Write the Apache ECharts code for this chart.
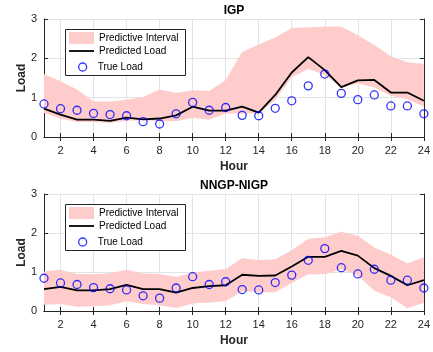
<!DOCTYPE html>
<html>
<head>
<meta charset="utf-8">
<script src="https://cdn.jsdelivr.net/npm/echarts@6/dist/echarts.min.js"></script>
<style>
  html, body { margin: 0; padding: 0; background: #fff; }
  #chart { width: 433px; height: 352px; }
</style>
</head>
<body>
<div id="chart"></div>
<script>
// Hours of the day
const hours = ['1','2','3','4','5','6','7','8','9','10','11','12','13','14','15','16','17','18','19','20','21','22','23','24'];

// Observed load (shared by both panels)
const trueLoad = [0.84, 0.72, 0.68, 0.60, 0.57, 0.54, 0.39, 0.33, 0.59, 0.88, 0.68, 0.75,
                  0.55, 0.54, 0.73, 0.92, 1.30, 1.60, 1.11, 0.95, 1.07, 0.79, 0.79, 0.59];

// IGP model
const igpPred  = [0.72, 0.57, 0.44, 0.44, 0.41, 0.49, 0.45, 0.47, 0.55, 0.77, 0.67, 0.67,
                  0.77, 0.62, 1.07, 1.64, 2.03, 1.70, 1.27, 1.44, 1.45, 1.13, 1.13, 0.92];
const igpUpper = [1.60, 1.42, 1.21, 0.91, 0.90, 0.95, 1.02, 1.21, 1.12, 1.19, 1.17, 1.45,
                  2.16, 2.35, 2.53, 2.77, 2.79, 2.80, 2.81, 2.59, 2.34, 2.05, 1.90, 1.86];
const igpLower = [0.61, 0.47, 0.38, 0.38, 0.36, 0.41, 0.43, 0.40, 0.40, 0.49, 0.44, 0.60,
                  0.60, 0.60, 0.94, 1.52, 1.73, 1.58, 1.25, 1.36, 1.26, 1.05, 0.96, 0.77];

// NNGP-NIGP model
const nnPred  = [0.56, 0.62, 0.53, 0.53, 0.56, 0.67, 0.56, 0.56, 0.47, 0.59, 0.64, 0.66,
                 0.93, 0.90, 0.91, 1.14, 1.39, 1.39, 1.54, 1.42, 1.10, 0.90, 0.66, 0.79];
const nnUpper = [1.01, 1.06, 0.95, 0.94, 0.97, 1.06, 0.96, 0.95, 0.87, 0.99, 1.03, 1.08,
                 1.35, 1.31, 1.33, 1.56, 1.85, 1.89, 2.03, 1.93, 1.63, 1.44, 1.22, 1.38];
const nnLower = [0.16, 0.18, 0.11, 0.12, 0.15, 0.25, 0.18, 0.15, 0.08, 0.19, 0.22, 0.25,
                 0.51, 0.48, 0.48, 0.72, 0.94, 0.94, 1.08, 0.91, 0.52, 0.35, 0.07, 0.21];

const panelTitles = ['IGP', 'NNGP-NIGP'];
const yTicks = [0, 1, 2, 3];

const FONT = 'Liberation Sans, Arial, Helvetica, sans-serif';
const AXIS_COLOR = '#262626';
const BAND_COLOR = '#ffcccc';
const evenHour = (idx) => (idx + 1) % 2 === 0;

const panels = [
  { pred: igpPred, upper: igpUpper, lower: igpLower, top: 19, height: 118 },
  { pred: nnPred,  upper: nnUpper,  lower: nnLower,  top: 194, height: 117 }
];

const grid = [], xAxis = [], yAxis = [], series = [], title = [], legend = [], graphic = [];

panels.forEach((p, i) => {
  grid.push({ left: 44, right: 8, top: p.top, height: p.height, containLabel: false });

  const baseX = {
    type: 'category', data: hours, gridIndex: i, boundaryGap: false,
    axisLine: { show: true, lineStyle: { color: AXIS_COLOR, width: 1 } },
    axisTick: { show: true, inside: true, length: 4, interval: (idx) => evenHour(idx), lineStyle: { color: AXIS_COLOR } }
  };
  xAxis.push(Object.assign({}, baseX, {
    position: 'bottom',
    name: 'Hour', nameLocation: 'middle', nameGap: 24, nameMoveOverlap: false,
    nameTextStyle: { fontFamily: FONT, fontSize: 12, fontWeight: 'bold', color: AXIS_COLOR },
    axisLabel: { interval: (idx) => evenHour(idx), color: AXIS_COLOR, fontFamily: FONT, fontSize: 11, margin: 8 },
    splitLine: { show: true, interval: (idx) => evenHour(idx), lineStyle: { color: '#e3e3e3', width: 1 } }
  }));
  xAxis.push(Object.assign({}, baseX, {
    position: 'top', axisLabel: { show: false }, splitLine: { show: false }
  }));

  const baseY = {
    type: 'value', gridIndex: i, min: 0, max: 3, interval: 1,
    axisLine: { show: true, lineStyle: { color: AXIS_COLOR, width: 1 } },
    axisTick: { show: true, inside: true, length: 4, lineStyle: { color: AXIS_COLOR } }
  };
  yAxis.push(Object.assign({}, baseY, {
    position: 'left',
    name: 'Load', nameLocation: 'middle', nameGap: 16, nameRotate: 90, nameMoveOverlap: false,
    nameTextStyle: { fontFamily: FONT, fontSize: 12, fontWeight: 'bold', color: AXIS_COLOR },
    axisLabel: { color: AXIS_COLOR, fontFamily: FONT, fontSize: 11, margin: 7,
                 formatter: (v) => yTicks.includes(v) ? String(v) : '' },
    splitLine: { show: true, lineStyle: { color: '#e3e3e3', width: 1 } }
  }));
  yAxis.push(Object.assign({}, baseY, {
    position: 'right', axisLabel: { show: false }, splitLine: { show: false }
  }));

  const xi = i * 2, yi = i * 2;
  const bandWidth = p.upper.map((u, k) => +(u - p.lower[k]).toFixed(3));

  series.push({
    type: 'line', xAxisIndex: xi, yAxisIndex: yi, stack: 'band' + i,
    data: p.lower, symbol: 'none', silent: true,
    lineStyle: { width: 0, opacity: 0 }, z: 1
  });
  series.push({
    name: 'Predictive Interval', type: 'line', xAxisIndex: xi, yAxisIndex: yi, stack: 'band' + i,
    data: bandWidth, symbol: 'none', color: BAND_COLOR,
    lineStyle: { width: 0, opacity: 0 },
    areaStyle: { color: BAND_COLOR, opacity: 1 }, z: 1
  });
  series.push({
    name: 'Predicted Load', type: 'line', xAxisIndex: xi, yAxisIndex: yi,
    data: p.pred, symbol: 'none', color: '#000000',
    lineStyle: { color: '#000000', width: 1.8 }, z: 3
  });
  series.push({
    name: 'True Load', type: 'scatter', xAxisIndex: xi, yAxisIndex: yi,
    data: trueLoad, symbol: 'circle', symbolSize: 8, color: '#0000ff',
    itemStyle: { color: 'rgba(255,255,255,0)', borderColor: '#0000ff', borderWidth: 1.3 }, z: 4
  });

  title.push({
    text: panelTitles[i], left: 234, top: p.top - 14, textAlign: 'center', padding: 0,
    textStyle: { fontFamily: FONT, fontSize: 12, fontWeight: 'bold', color: '#000' }
  });

  // legend frame
  graphic.push({
    type: 'rect', left: 65, top: p.top + 10, z: 50,
    shape: { width: 120, height: 46 },
    style: { fill: '#ffffff', stroke: AXIS_COLOR, lineWidth: 1 }
  });

  const legendText = { fontFamily: FONT, fontSize: 10, color: '#000' };
  legend.push({
    orient: 'vertical', left: 69, top: p.top + 13, z: 60,
    itemWidth: 25, itemHeight: 12, itemGap: 2, padding: 0,
    textStyle: legendText, selectedMode: false,
    data: [
      { name: 'Predictive Interval', icon: 'rect', itemStyle: { color: BAND_COLOR, borderWidth: 0 } },
      { name: 'Predicted Load', icon: 'path://M0,0L25,0L25,1.8L0,1.8Z',
        itemStyle: { color: '#000000', borderWidth: 0 } }
    ]
  });
  legend.push({
    orient: 'vertical', left: 78, top: p.top + 43, z: 60,
    itemWidth: 8, itemHeight: 8, padding: 0,
    textStyle: Object.assign({ padding: [0, 0, 0, 6] }, legendText), selectedMode: false,
    data: [
      { name: 'True Load', icon: 'circle',
        itemStyle: { color: '#ffffff', borderColor: '#0000ff', borderWidth: 1.3 } }
    ]
  });
});

const chart = echarts.init(document.getElementById('chart'), null, { renderer: 'canvas' });
chart.setOption({
  animation: false,
  backgroundColor: '#ffffff',
  title, grid, xAxis, yAxis, series, legend, graphic
});
</script>
</body>
</html>
